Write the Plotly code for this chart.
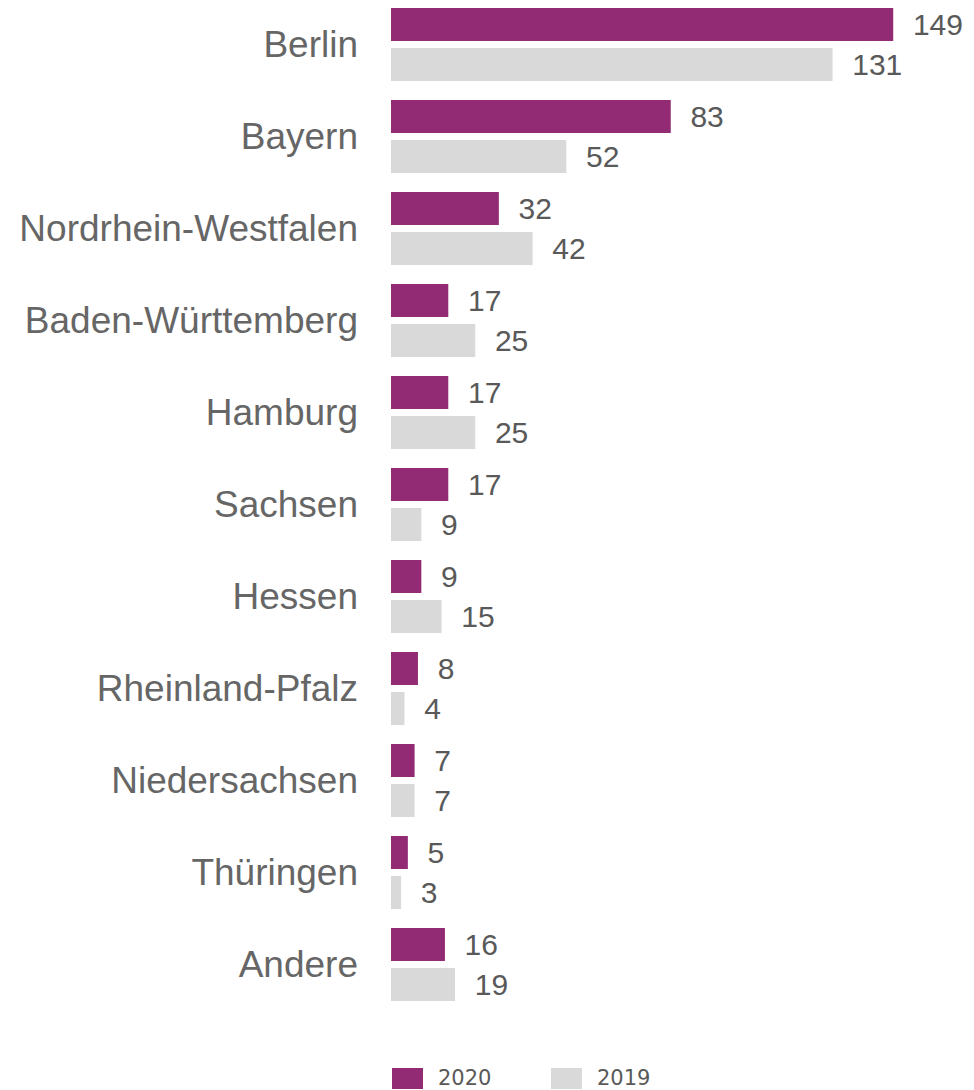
import plotly.graph_objects as go

categories = ["Berlin", "Bayern", "Nordrhein-Westfalen", "Baden-Württemberg", "Hamburg",
              "Sachsen", "Hessen", "Rheinland-Pfalz", "Niedersachsen", "Thüringen", "Andere"]
values_2020 = [149, 83, 32, 17, 17, 17, 9, 8, 7, 5, 16]
values_2019 = [131, 52, 42, 25, 25, 9, 15, 4, 7, 3, 19]
series_names = ["2020", "2019"]
colors = ["#922B73", "#D9D9D9"]

TEXT_COLOR = "#595959"
NB = "\u00a0\u00a0"

fig = go.Figure()
for name, vals, col in zip(series_names, [values_2020, values_2019], colors):
    fig.add_trace(go.Bar(
        y=categories, x=vals, orientation="h", name=name,
        marker=dict(color=col, line=dict(width=0)),
        text=[NB + str(v) for v in vals], textposition="outside",
        outsidetextfont=dict(family="Liberation Sans, Arial", size=30, color=TEXT_COLOR),
        cliponaxis=False, showlegend=False,
    ))

# page has an 8px body margin; figure sized to fill the remaining window
OFF = 8
W, H = 974 - OFF, 1090 - OFF
ml, mr, mt, mb = 391 - OFF, 10, 0, 79 - OFF
pw, ph = W - ml - mr, H - mt - mb
band = 92.0
y_top = -(44.5 - OFF) / band
y_bot = y_top + ph / band

def px_to_paper_x(px):
    return (px - OFF - ml) / pw

def py_to_paper_y(py):
    return (H - mb - (py - OFF)) / ph

shapes = []
annotations = []
legend_x = [392, 551]
for i, (name, col) in enumerate(zip(series_names, colors)):
    x0 = legend_x[i]
    shapes.append(dict(type="rect", xref="paper", yref="paper",
                       x0=px_to_paper_x(x0), x1=px_to_paper_x(x0 + 31),
                       y0=py_to_paper_y(1089), y1=py_to_paper_y(1068),
                       fillcolor=col, line=dict(width=0)))
    annotations.append(dict(xref="paper", yref="paper", x=px_to_paper_x(x0 + 44),
                            y=py_to_paper_y(1078), xanchor="left", yanchor="middle",
                            text=name, showarrow=False,
                            font=dict(family="DejaVu Sans, Verdana", size=21, color=TEXT_COLOR)))

fig.update_layout(
    width=W, height=H,
    margin=dict(l=ml, r=mr, t=mt, b=mb),
    barmode="group", bargap=0.13, bargroupgap=0.175,
    paper_bgcolor="white", plot_bgcolor="white",
    xaxis=dict(visible=False, range=[0, 170]),
    yaxis=dict(range=[y_bot, y_top], showgrid=False, showline=False, zeroline=False,
               ticks="", ticklabelstandoff=32,
               tickfont=dict(family="Liberation Sans, Arial", size=37, color="#666666")),
    shapes=shapes, annotations=annotations,
    showlegend=False,
)

fig.write_html("out.html")
